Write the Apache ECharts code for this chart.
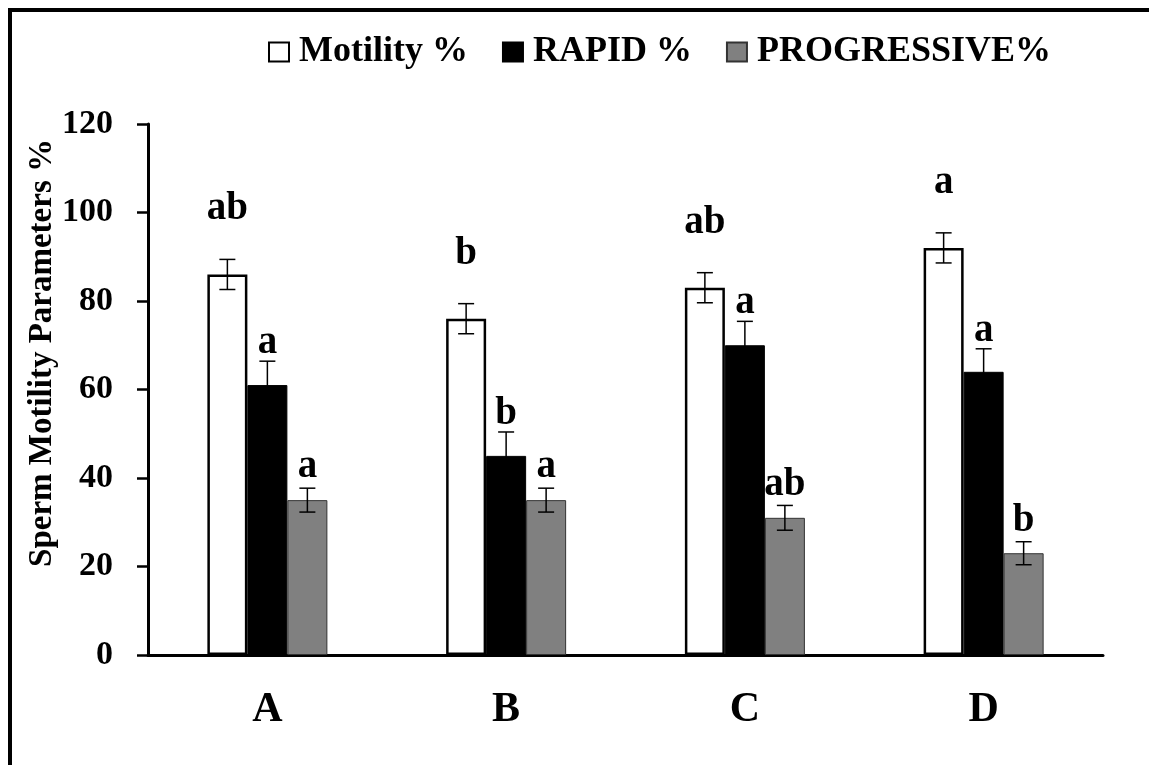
<!DOCTYPE html>
<html>
<head>
<meta charset="utf-8">
<title>Sperm motility parameters</title>
<script src="https://cdn.jsdelivr.net/npm/echarts@6/dist/echarts.min.js"></script>
<style>
  html, body { margin: 0; padding: 0; background: #fff; }
  #chart { width: 1149px; height: 765px; }
</style>
</head>
<body>
<div id="chart"></div>
<script>
// Data
const categories = ['A', 'B', 'C', 'D'];
const seriesNames = ['Motility %', 'RAPID %', 'PROGRESSIVE%'];
const motility = [86, 76, 83, 92];
const rapid = [61, 45, 70, 64];
const progressive = [35, 35, 31, 23];
const motilityErr = [3.4, 3.4, 3.4, 3.4];
const rapidErr = [5.4, 5.4, 5.4, 5.2];
const progressiveErr = [2.7, 2.7, 2.8, 2.6];
const motilityLetters = ['ab', 'b', 'ab', 'a'];
const rapidLetters = ['a', 'b', 'a', 'a'];
const progressiveLetters = ['a', 'a', 'ab', 'b'];
const yTicks = [0, 20, 40, 60, 80, 100, 120];

const means = [motility, rapid, progressive];
const errs = [motilityErr, rapidErr, progressiveErr];
const letters = [motilityLetters, rapidLetters, progressiveLetters];

const SERIF = '"Liberation Serif", "Times New Roman", serif';
const BAR_W = 40;
// letters sit higher over the white bars
const letterGap = [50, 18, 21];

const chart = echarts.init(document.getElementById('chart'));

const barStyles = [
  { color: '#ffffff', borderColor: '#000000', borderWidth: 2.5 },
  { color: '#000000', borderColor: '#000000', borderWidth: 1 },
  { color: '#808080', borderColor: '#333333', borderWidth: 1 }
];

function errorSeries(k) {
  return {
    type: 'custom',
    z: 10,
    silent: true,
    data: categories.map((c, i) => [i, means[k][i], errs[k][i]]),
    renderItem: function (params, api) {
      const i = api.value(0);
      const m = api.value(1);
      const e = api.value(2);
      const x = api.coord([i, m])[0] + (k - 1) * BAR_W;
      const yTop = api.coord([i, m + e])[1];
      const yBot = api.coord([i, m - e])[1];
      const cap = 8;
      const line = { stroke: '#000', lineWidth: 1.5 };
      return {
        type: 'group',
        children: [
          { type: 'line', shape: { x1: x, y1: yTop, x2: x, y2: yBot }, style: line },
          { type: 'line', shape: { x1: x - cap, y1: yTop, x2: x + cap, y2: yTop }, style: line },
          { type: 'line', shape: { x1: x - cap, y1: yBot, x2: x + cap, y2: yBot }, style: line },
          {
            type: 'text',
            style: {
              text: letters[k][params.dataIndex],
              x: x,
              y: yTop - letterGap[k],
              align: 'center',
              verticalAlign: 'middle',
              font: 'bold 39px ' + SERIF,
              fill: '#000'
            }
          }
        ]
      };
    }
  };
}

const option = {
  animation: false,
  backgroundColor: '#ffffff',
  graphic: [
    {
      type: 'rect',
      shape: { x: 10, y: 10, width: 1300, height: 900 },
      style: { fill: 'none', stroke: '#000', lineWidth: 4 },
      z: 100
    },
    {
      type: 'text',
      x: 42,
      y: 353,
      rotation: Math.PI / 2,
      style: {
        text: 'Sperm Motility Parameters %',
        align: 'center',
        verticalAlign: 'middle',
        font: 'bold 33px ' + SERIF,
        fill: '#000'
      }
    }
  ],
  legend: {
    data: seriesNames,
    left: 263,
    top: 29,
    itemWidth: 20,
    itemHeight: 19,
    itemGap: 34,
    icon: 'rect',
    textStyle: {
      fontFamily: SERIF,
      fontWeight: 'bold',
      fontSize: 36,
      color: '#000',
      padding: [0, 0, 0, 5]
    }
  },
  grid: {
    left: 148,
    right: 46,
    top: 124,
    bottom: 110
  },
  xAxis: {
    type: 'category',
    data: categories,
    axisLine: { lineStyle: { color: '#000', width: 3 } },
    axisTick: { show: false },
    axisLabel: {
      margin: 34,
      fontFamily: SERIF,
      fontWeight: 'bold',
      fontSize: 42,
      color: '#000'
    }
  },
  yAxis: {
    type: 'value',
    min: yTicks[0],
    max: yTicks[yTicks.length - 1],
    interval: 20,
    axisLine: { show: true, lineStyle: { color: '#000', width: 3 } },
    axisTick: { show: true, length: 11, lineStyle: { color: '#000', width: 2.5 } },
    splitLine: { show: false },
    axisLabel: {
      margin: 35,
      fontFamily: SERIF,
      fontWeight: 'bold',
      fontSize: 34,
      color: '#000'
    }
  },
  series: [
    ...seriesNames.map((name, k) => ({
      name: name,
      type: 'bar',
      data: means[k],
      barWidth: BAR_W,
      barGap: '0%',
      itemStyle: barStyles[k]
    })),
    errorSeries(0),
    errorSeries(1),
    errorSeries(2)
  ]
};

chart.setOption(option);
</script>
</body>
</html>
